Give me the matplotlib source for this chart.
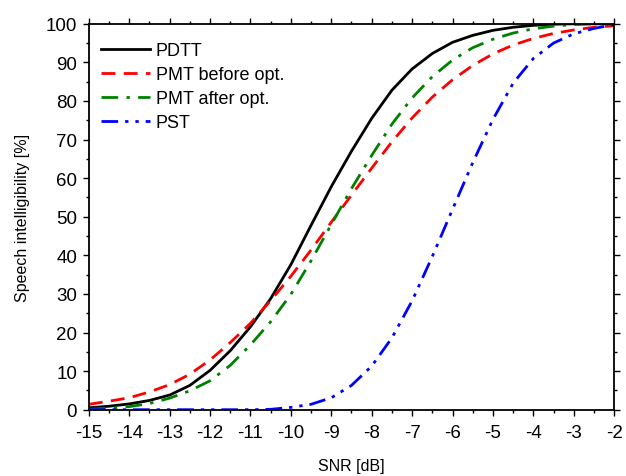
import numpy as np
import matplotlib
matplotlib.use("Agg")
import matplotlib.pyplot as plt
from matplotlib.ticker import MultipleLocator

plt.rcParams['font.family'] = ['Liberation Sans', 'DejaVu Sans']
plt.rcParams['axes.unicode_minus'] = False

# SNR grid in dB, values at half-dB steps
snr = [-15, -14.5, -14, -13.5, -13, -12.5, -12, -11.5, -11, -10.5, -10,
       -9.5, -9, -8.5, -8, -7.5, -7, -6.5, -6, -5.5, -5, -4.5, -4,
       -3.5, -3, -2.5, -2]

pdtt = [0.5, 0.9, 1.5, 2.4, 3.8, 6.3, 10.2, 15.3, 21.5, 28.8, 37.6,
        47.8, 57.8, 67.0, 75.5, 82.8, 88.3, 92.3, 95.2, 97.0, 98.3, 99.1, 99.6,
        99.9, 100, 100, 100]

pmt_before = [1.4, 2.2, 3.1, 4.6, 6.5, 9.2, 12.9, 17.4, 22.4, 28.3, 34.6,
              41.4, 48.6, 55.6, 62.6, 69.4, 75.6, 81.0, 85.5, 89.2, 92.2, 94.5, 96.2,
              97.5, 98.4, 99.1, 99.5]

pmt_after = [0.1, 0.4, 0.8, 1.6, 3.0, 4.9, 7.5, 11.5, 16.8, 22.8, 29.9,
             38.6, 48.0, 57.3, 65.9, 74.0, 80.8, 86.3, 90.6, 93.8, 96.0, 97.6, 98.7,
             99.4, 99.8, 100, 100]

pst = [0, 0, 0, 0, 0, 0, 0, 0, 0, 0.1, 0.6,
       1.4, 3.1, 6.3, 11.3, 18.6, 28.2, 39.7, 51.9, 64.0, 75.2, 84.6, 91.0,
       95.0, 97.4, 98.8, 99.8]

fig = plt.figure(figsize=(6.26, 4.77), dpi=100)
ax = fig.add_axes([0.142, 0.139, 0.839, 0.809])

lw = 2.0
ax.plot(snr, pdtt, color='black', lw=lw, label='PDTT')
ax.plot(snr, pmt_before, color='red', lw=lw, dashes=(5, 3), label='PMT before opt.')
ax.plot(snr, pmt_after, color='green', lw=lw, dashes=(6, 3, 1.2, 3), label='PMT after opt.')
ax.plot(snr, pst, color='blue', lw=lw, dashes=(6, 2.5, 1.2, 2.5, 1.2, 2.5), label='PST')

ax.set_xlim(-15, -2)
ax.set_ylim(0, 100)
ax.xaxis.set_major_locator(MultipleLocator(1))
ax.xaxis.set_minor_locator(MultipleLocator(0.5))
ax.yaxis.set_major_locator(MultipleLocator(10))
ax.yaxis.set_minor_locator(MultipleLocator(5))

ax.tick_params(which='both', direction='out', top=True, right=True,
               labeltop=False, labelright=False, width=1.0)
ax.tick_params(which='major', length=4.5, labelsize=13.5)
ax.tick_params(axis='x', which='major', pad=6)
ax.tick_params(axis='y', which='major', pad=4)
ax.tick_params(which='minor', length=2.5)
for s in ax.spines.values():
    s.set_linewidth(1.3)

ax.set_xlabel('SNR [dB]', fontsize=11.5, labelpad=12)
ax.set_ylabel('Speech intelligibility [%]', fontsize=11.5, labelpad=11)

ax.legend(loc='upper left', frameon=False, fontsize=13, handlelength=2.7,
          handletextpad=0.3, labelspacing=0.4, borderaxespad=0.0,
          bbox_to_anchor=(0.01, 0.972))

fig.savefig('out.png', dpi=100)
